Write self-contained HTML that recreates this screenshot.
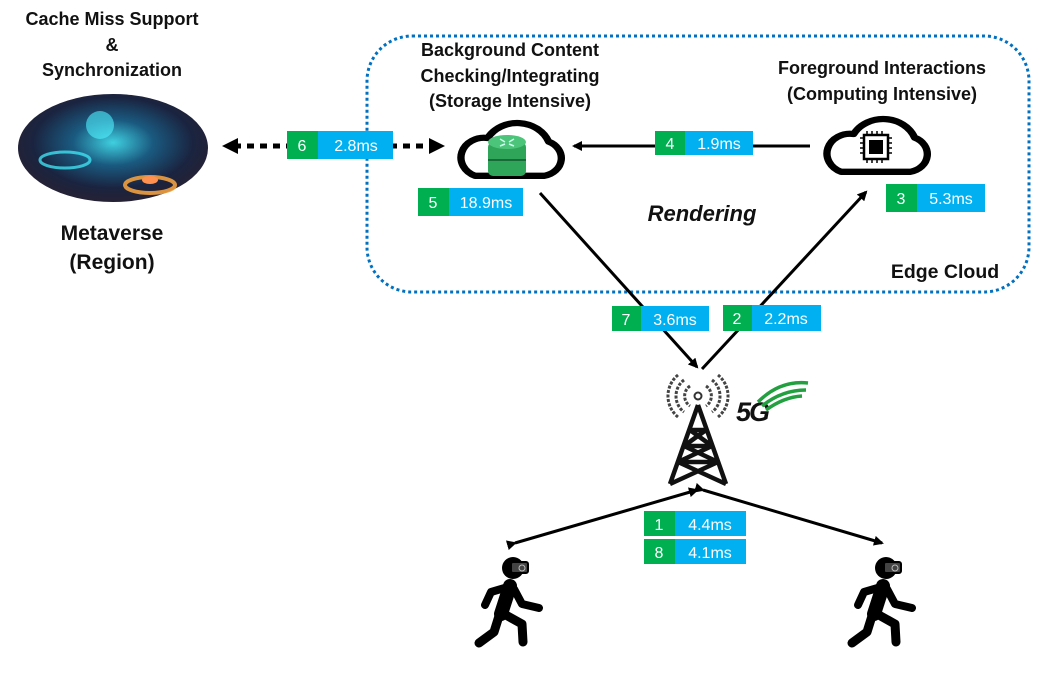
<!DOCTYPE html>
<html><head><meta charset="utf-8"><style>
html,body{margin:0;padding:0;background:#fff}
svg{display:block}
text{font-family:"Liberation Sans",sans-serif}
.b{font-weight:bold;font-size:18px;fill:#111}
.w{fill:#fff;font-size:16px}
</style></head><body>
<svg width="1045" height="683" viewBox="0 0 1045 683" xmlns="http://www.w3.org/2000/svg">
<defs>
<marker id="ah" markerWidth="10" markerHeight="10" refX="8" refY="5" orient="auto" markerUnits="userSpaceOnUse"><path d="M0,0 L10,5 L0,10 Z" fill="#000"/></marker>
<radialGradient id="mv" cx="50%" cy="45%" r="60%">
<stop offset="0" stop-color="#3fd0e0"/><stop offset="0.35" stop-color="#1a5a80"/><stop offset="0.7" stop-color="#1a2440"/><stop offset="1" stop-color="#2a2030"/></radialGradient>
<g id="cloud"><path d="M22,62 H88 A20,20 0 0 0 92,24 A32,32 0 0 0 34,20 A22,22 0 0 0 22,62 Z" fill="#fff" stroke="#000" stroke-width="7" stroke-linejoin="round"/></g>
</defs>

<rect x="367" y="36" width="662" height="256" rx="45" fill="none" stroke="#0070c0" stroke-width="3" stroke-dasharray="3,3"/>

<text class="b" x="112" y="25" text-anchor="middle">Cache Miss Support</text>
<text class="b" x="112" y="51" text-anchor="middle">&amp;</text>
<text class="b" x="112" y="76" text-anchor="middle">Synchronization</text>
<ellipse cx="113" cy="148" rx="95" ry="54" fill="url(#mv)"/>
<ellipse cx="65" cy="160" rx="25" ry="8" fill="none" stroke="#40e0f0" stroke-width="3" opacity="0.8"/>
<ellipse cx="150" cy="185" rx="25" ry="8" fill="none" stroke="#f0a040" stroke-width="4" opacity="0.9"/>
<ellipse cx="150" cy="180" rx="8" ry="4" fill="#ff9050"/>
<ellipse cx="100" cy="125" rx="14" ry="14" fill="#50f0ff" opacity="0.6"/>
<text class="b" x="112" y="240" text-anchor="middle" style="font-size:21px">Metaverse</text>
<text class="b" x="112" y="269" text-anchor="middle" style="font-size:21px">(Region)</text>

<line x1="234" y1="146" x2="432" y2="146" stroke="#000" stroke-width="5" stroke-dasharray="7,6"/>
<path d="M222,146 L238,138 L238,154 Z" fill="#000"/>
<path d="M445,146 L429,138 L429,154 Z" fill="#000"/>
<rect x="287" y="131" width="31" height="28" fill="#00b050"/><rect x="318" y="131" width="75" height="28" fill="#00b0f0"/>
<text class="w" x="302" y="151" text-anchor="middle">6</text><text class="w" x="356" y="151" text-anchor="middle">2.8ms</text>

<text class="b" x="510" y="56" text-anchor="middle">Background Content</text>
<text class="b" x="510" y="82" text-anchor="middle">Checking/Integrating</text>
<text class="b" x="510" y="107" text-anchor="middle">(Storage Intensive)</text>
<g transform="translate(452,120) scale(1.05,0.9)"><use href="#cloud"/></g>
<rect x="488" y="142" width="38" height="34" rx="5" fill="#2fa55a"/>
<ellipse cx="507" cy="142" rx="19" ry="7" fill="#4cc47a"/>
<line x1="488" y1="160" x2="526" y2="160" stroke="#1a6a38" stroke-width="2"/>
<path d="M500,139 l5,3 M514,139 l-5,3 M500,146 l5,-2 M514,146 l-5,-2" stroke="#cfe" stroke-width="1.5"/>
<rect x="418" y="188" width="31" height="28" fill="#00b050"/><rect x="449" y="188" width="74" height="28" fill="#00b0f0"/>
<text class="w" x="433" y="208" text-anchor="middle">5</text><text class="w" x="486" y="208" text-anchor="middle">18.9ms</text>

<text class="b" x="882" y="74" text-anchor="middle">Foreground Interactions</text>
<text class="b" x="882" y="100" text-anchor="middle">(Computing Intensive)</text>
<g transform="translate(818,116) scale(1.05,0.9)"><use href="#cloud"/></g>
<rect x="864" y="135" width="24" height="24" fill="#fff" stroke="#000" stroke-width="2.5"/>
<rect x="869" y="140" width="14" height="14" fill="#000"/>
<path d="M860,138 h4 M860,143 h4 M860,148 h4 M860,153 h4 M888,138 h4 M888,143 h4 M888,148 h4 M888,153 h4 M867,131 v4 M872,131 v4 M877,131 v4 M882,131 v4 M867,159 v4 M872,159 v4 M877,159 v4 M882,159 v4" stroke="#000" stroke-width="1.5"/>
<rect x="886" y="184" width="31" height="28" fill="#00b050"/><rect x="917" y="184" width="68" height="28" fill="#00b0f0"/>
<text class="w" x="901" y="204" text-anchor="middle">3</text><text class="w" x="951" y="204" text-anchor="middle">5.3ms</text>

<line x1="810" y1="146" x2="574" y2="146" stroke="#000" stroke-width="3" marker-end="url(#ah)"/>
<rect x="655" y="131" width="30" height="24" fill="#00b050"/><rect x="685" y="131" width="68" height="24" fill="#00b0f0"/>
<text class="w" x="670" y="149" text-anchor="middle">4</text><text class="w" x="719" y="149" text-anchor="middle">1.9ms</text>

<text x="702" y="221" text-anchor="middle" style="font-weight:bold;font-style:italic;font-size:22px;fill:#111">Rendering</text>
<text class="b" x="945" y="278" text-anchor="middle" style="font-size:19.5px">Edge Cloud</text>

<line x1="540" y1="193" x2="697" y2="367" stroke="#000" stroke-width="3" marker-end="url(#ah)"/>
<line x1="702" y1="369" x2="866" y2="192" stroke="#000" stroke-width="3" marker-end="url(#ah)"/>
<rect x="612" y="306" width="29" height="25" fill="#00b050"/><rect x="641" y="306" width="68" height="25" fill="#00b0f0"/>
<text class="w" x="626" y="325" text-anchor="middle">7</text><text class="w" x="675" y="325" text-anchor="middle">3.6ms</text>
<rect x="723" y="305" width="29" height="26" fill="#00b050"/><rect x="752" y="305" width="69" height="26" fill="#00b0f0"/>
<text class="w" x="737" y="324" text-anchor="middle">2</text><text class="w" x="786" y="324" text-anchor="middle">2.2ms</text>

<circle cx="698" cy="396" r="3.5" fill="none" stroke="#333" stroke-width="2"/>
<path d="M690,386 a12,12 0 0 0 0,20 M706,386 a12,12 0 0 1 0,20 M684,380 a20,20 0 0 0 0,32 M712,380 a20,20 0 0 1 0,32 M678,375 a27,27 0 0 0 0,42 M718,375 a27,27 0 0 1 0,42" fill="none" stroke="#444" stroke-width="3" stroke-dasharray="3,1.5"/>
<path d="M698,405 L670,484 M698,405 L726,484 M690,430 L706,430 M684,446 L712,446 M678,462 L718,462 M690,430 L712,446 L678,462 M706,430 L684,446 L718,462 M678,462 L726,484 M718,462 L670,484" fill="none" stroke="#111" stroke-width="4.5" stroke-linejoin="round"/>
<text x="736" y="421" style="font-weight:bold;font-style:italic;font-size:27px;fill:#111;letter-spacing:-2px">5G</text>
<path d="M758,402 Q780,380 808,383 M762,406 Q782,390 806,390 M766,410 Q784,397 802,396" fill="none" stroke="#22a040" stroke-width="3.5"/>

<line x1="515" y1="543" x2="697" y2="490" stroke="#000" stroke-width="3" marker-start="url(#ah)" marker-end="url(#ah)"/>
<line x1="703" y1="490" x2="882" y2="543" stroke="#000" stroke-width="3" marker-start="url(#ah)" marker-end="url(#ah)"/>
<rect x="644" y="511" width="31" height="25" fill="#00b050"/><rect x="675" y="511" width="71" height="25" fill="#00b0f0"/>
<text class="w" x="659" y="530" text-anchor="middle">1</text><text class="w" x="710" y="530" text-anchor="middle">4.4ms</text>
<rect x="644" y="539" width="31" height="25" fill="#00b050"/><rect x="675" y="539" width="71" height="25" fill="#00b0f0"/>
<text class="w" x="659" y="558" text-anchor="middle">8</text><text class="w" x="710" y="558" text-anchor="middle">4.1ms</text>

<g id="p1" transform="translate(513,568)">
<circle cx="0" cy="0" r="11" fill="#000"/>
<rect x="-2" y="-6" width="17" height="11" rx="2" fill="#444" stroke="#000" stroke-width="2"/>
<circle cx="9" cy="0" r="3" fill="none" stroke="#bbb" stroke-width="1"/>
<g fill="none" stroke="#000" stroke-linecap="round" stroke-linejoin="round">
<path d="M-3,18 L-12,46" stroke-width="14"/>
<path d="M-5,19 L-22,24 L-28,37" stroke-width="8"/>
<path d="M1,21 L9,36 L26,40" stroke-width="8"/>
<path d="M-9,46 L9,56 L10,74" stroke-width="9"/>
<path d="M-14,48 L-19,64 L-34,75" stroke-width="9"/>
</g></g>
<use href="#p1" x="373" y="0"/>
</svg>
</body></html>
